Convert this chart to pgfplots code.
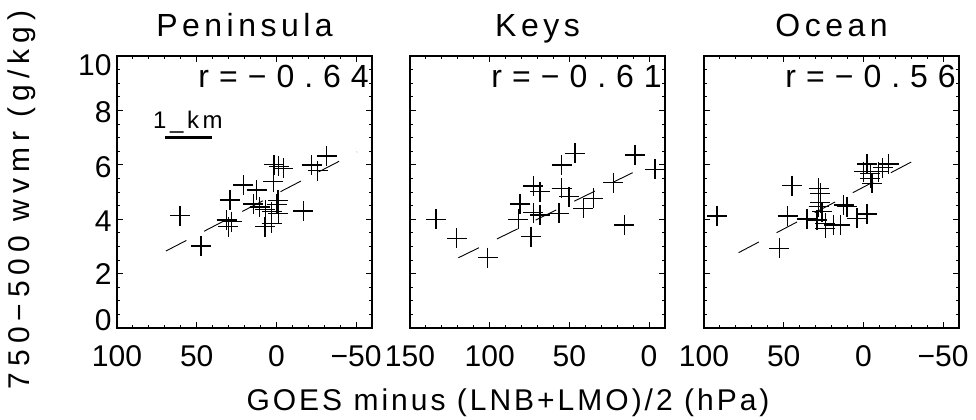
\documentclass[border=0pt]{standalone}
\usepackage{pgfplots}
\pgfplotsset{compat=1.18}
\usepackage{graphicx}
\usepackage{fontspec}
\setmainfont{Liberation Sans}
\newfontfamily\kmfont[LetterSpace=15]{Liberation Sans}
\newfontfamily\titlefont[LetterSpace=14]{Liberation Sans}
\newfontfamily\ylabfont[LetterSpace=20]{Liberation Sans}
\newfontfamily\xlabfont[LetterSpace=10]{Liberation Sans}
% y tick label: shift the digit centre by #1 from the tick
\newcommand\yl[2]{\raisebox{\dimexpr #1-10.74bp\relax}[0pt][0pt]{#2}}
% widely spaced correlation text
\newcommand\rk{\kern10bp}
\newcommand\rval[2]{r\rk=\rk−\rk0\rk.\rk#1\rk#2}

\pgfplotsset{
  panel/.style={
    scale only axis, width=255bp, height=272bp,
    x dir=reverse, ymin=0, ymax=10,
    ytick={0,2,4,6,8,10},
    minor y tick num=3, minor x tick num=4,
    major tick length=6bp, minor tick length=3bp,
    axis line style={line width=1.2bp},
    every tick/.style={black, line width=0.9bp},
    tick label style={font=\rmfamily\fontsize{30bp}{30bp}\selectfont},
    xticklabel style={yshift=-14bp},
    yticklabel style={xshift=-2bp},
    anchor=south west,
  },
  crosses/.style={only marks, mark=+, mark size=10bp, mark options={line width=1.3bp, black}},
  regline/.style={no marks, black, line width=0.9bp, dash pattern=on 23bp off 20bp},
}
\tikzset{rtext/.style={anchor=base east, font=\rmfamily\fontsize{32bp}{32bp}\selectfont, inner sep=0pt, xshift=-3bp}}

\begin{document}
\begin{tikzpicture}
\path[use as bounding box] (0,0) rectangle (976bp,420bp);

% ---------------- Peninsula ----------------
\begin{axis}[panel, at={(117bp,92bp)},
  xmin=-60, xmax=100, xtick={-50,0,50,100}, xticklabels={−50,0,50,100},
  yticklabels={\yl{8bp}{0},\yl{0bp}{2},\yl{-1.5bp}{4},\yl{-1.5bp}{6},\yl{-1.5bp}{8},\yl{-9bp}{10}}]
\addplot[crosses] coordinates {
 (60.5,4.13) (47.3,3.01) (-31.6,6.32) (-22.1,5.99) (-25.9,5.78)
 (1.5,6.00) (-1.5,5.95) (-4.3,5.87) (1.9,5.38) (20.8,5.26)
 (12.4,5.07) (29.1,4.71) (14.5,4.56) (10.5,4.45) (7.0,4.35)
 (-0.4,4.55) (3.0,4.28) (-1.2,4.22) (-16.9,4.30) (31.2,3.97)
 (28.0,3.91) (30.2,3.72) (7.2,3.72) (3.0,3.85) (-1.0,4.70)
};
\addplot[regline] coordinates {(69.3,2.83) (-50.6,6.47)};
\addplot[no marks, black, line width=3bp] coordinates {(70,7.02) (40.4,7.02)};
\node[anchor=base west, inner sep=0pt, font=\kmfont\fontsize{24bp}{24bp}\selectfont] at (axis cs:77.4,7.32) {1\_km};
\node[rtext] at (axis cs:-60,8.86) {\rval{6}{4}};
\end{axis}

% ---------------- Keys ----------------
\begin{axis}[panel, at={(410bp,92bp)},
  xmin=-10, xmax=150, xtick={0,50,100,150}, xticklabels={0,50,100,150},
  yticklabels={}]
\addplot[crosses] coordinates {
 (133.7,4.00) (120.7,3.30) (101.3,2.59) (82.0,4.00) (81.0,4.56)
 (74.1,3.36) (72.6,5.22) (68.4,5.01) (72.6,4.24) (68.4,4.15)
 (56.5,4.22) (54.8,5.99) (46.5,6.42) (54.8,5.13) (50.3,4.83)
 (41.3,4.40) (35.0,4.77) (22.5,5.34) (8.8,6.36) (-3.7,5.83)
 (15.6,3.79)
};
\addplot[regline] coordinates {(119.7,2.58) (10.3,5.71)};
\node[rtext] at (axis cs:-10,8.86) {\rval{6}{1}};
\end{axis}

% ---------------- Ocean ----------------
\begin{axis}[panel, at={(704bp,92bp)},
  xmin=-60, xmax=100, xtick={-50,0,50,100}, xticklabels={−50,0,50,100},
  yticklabels={}]
\addplot[crosses] coordinates {
 (91.8,4.12) (52.8,2.93) (47.5,4.12) (44.8,5.23) (28.1,5.13)
 (27.0,4.95) (27.0,4.61) (28.1,4.46) (26.0,4.28) (35.4,4.01)
 (29.1,3.97) (23.9,3.85) (23.9,3.67) (18.7,3.79) (14.5,3.79)
 (12.4,4.52) (10.3,4.46) (4.0,4.03) (-2.3,4.19) (-2.3,6.03)
 (-4.3,5.69) (-0.1,5.75) (-4.3,5.50) (-5.4,5.32) (-9.5,5.75)
 (-15.8,6.03) (-12.0,5.90)
};
\addplot[regline] coordinates {(78.3,2.77) (-40.7,6.43)};
\node[rtext] at (axis cs:-60,8.86) {\rval{5}{6}};
\end{axis}

% titles
\node[anchor=base, inner sep=0pt, font=\titlefont\fontsize{32bp}{32bp}\selectfont] at (244.5bp,383bp) {Peninsula};
\node[anchor=base, inner sep=0pt, font=\titlefont\fontsize{32bp}{32bp}\selectfont] at (537.5bp,383bp) {Keys};
\node[anchor=base, inner sep=0pt, font=\titlefont\fontsize{32bp}{32bp}\selectfont] at (831.5bp,383bp) {Ocean};

% axis labels
\node[anchor=base, inner sep=0pt, font=\xlabfont\fontsize{30bp}{30bp}\selectfont] at (508bp,10bp) {GOES minus (LNB+LMO)/2 (hPa)};
\node[rotate=90, anchor=center, inner sep=0pt, font=\ylabfont\fontsize{30bp}{30bp}\selectfont] at (22bp,220bp) {750−500 wvmr (g/kg)};
\end{tikzpicture}
\end{document}
